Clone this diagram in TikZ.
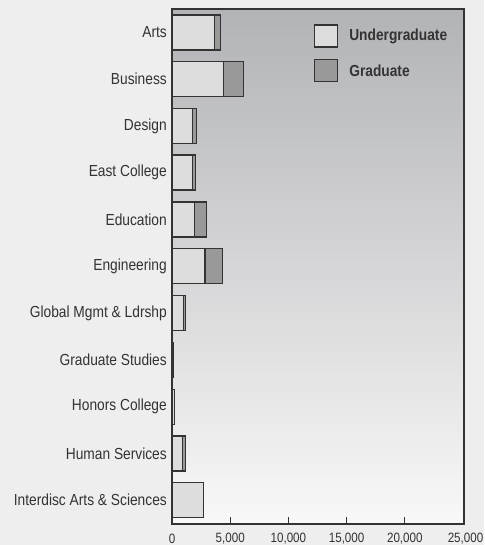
\documentclass[tikz,border=0pt]{standalone}
\usepackage{fontspec}
\setmainfont[FakeStretch=0.86]{Liberation Sans}
\usepackage{xcolor}
\usepackage{tikz}
\usetikzlibrary{positioning}
\definecolor{pagebg}{HTML}{EEEEEE}
\definecolor{shadetop}{HTML}{B2B3B6}
\definecolor{shadebot}{HTML}{F8F8F8}
\definecolor{barline}{HTML}{333333}
\definecolor{ugfill}{HTML}{DDDDDD}
\definecolor{gradfill}{HTML}{999999}
\definecolor{txt}{HTML}{333333}
\tikzset{
  ugbar/.style={draw=barline, fill=ugfill, line width=1.2pt},
  gradbar/.style={draw=barline, fill=gradfill, line width=1.2pt},
  college/.style={anchor=east, inner sep=0pt, text=txt, font=\fontsize{16}{18}\selectfont},
  ticklab/.style={inner sep=0pt, text=txt, font=\fontsize{13.5}{15}\selectfont},
  keytext/.style={anchor=west, inner sep=0pt, text=txt, font=\fontsize{16}{18}\selectfont\bfseries},
}

\begin{document}
\begin{tikzpicture}[x=1pt, y=-1pt]
      \fill[pagebg] (0,0) rectangle (484,545);
      \useasboundingbox (0,0) rectangle (484,545);
      \shade[top color=shadetop, bottom color=shadebot] (172,9) rectangle (464,524);
      \draw[barline, line width=1.3pt] (172,9) rectangle (464,524);
      % bars
      \draw[gradbar] (172,15) rectangle (220.3,50);
      \draw[ugbar] (172,15) rectangle (214.3,50);
      \draw[gradbar] (172,61.7) rectangle (243.3,96.7);
      \draw[ugbar] (172,61.7) rectangle (223.7,96.7);
      \draw[gradbar] (172,108.5) rectangle (196.5,143.5);
      \draw[ugbar] (172,108.5) rectangle (192.7,143.5);
      \draw[gradbar] (172,155.1) rectangle (195.7,190.1);
      \draw[ugbar] (172,155.1) rectangle (192.3,190.1);
      \draw[gradbar] (172,201.9) rectangle (206.7,236.9);
      \draw[ugbar] (172,201.9) rectangle (194.7,236.9);
      \draw[gradbar] (172,248.7) rectangle (222.3,283.7);
      \draw[ugbar] (172,248.7) rectangle (205,283.7);
      \draw[gradbar] (172,295.5) rectangle (185.3,330.5);
      \draw[ugbar] (172,295.5) rectangle (183.3,330.5);
      \draw[gradbar] (172,342.3) rectangle (173,377.3);
      \draw[ugbar] (172,389.1) rectangle (174.7,424.1);
      \draw[gradbar] (172,435.9) rectangle (185.3,470.9);
      \draw[ugbar] (172,435.9) rectangle (182.5,470.9);
      \draw[ugbar] (172,482.7) rectangle (203.3,517.7);
      % college names
      \node[college] (arts) at (167,32.5) {Arts};
      \node[college] (bus) at (167,79.2) {Business};
      \node[college] (des) at (167,126) {Design};
      \node[college] (east) at (167,172.6) {East College};
      \node[college] (edu) at (167,219.4) {Education};
      \node[college] (eng) at (167,266.2) {Engineering};
      \node[college] (glob) at (167,313) {Global Mgmt \& Ldrshp};
      \node[college] (grad) at (167,359.8) {Graduate Studies};
      \node[college] (hon) at (167,406.6) {Honors College};
      \node[college] (hum) at (167,453.4) {Human Services};
      \node[college] (inter) at (167,500.2) {Interdisc Arts \& Sciences};
      % axis ticks
      \draw[barline, line width=1.2pt] (230.2,524) -- (230.2,517);
      \draw[barline, line width=1.2pt] (288.4,524) -- (288.4,517);
      \draw[barline, line width=1.2pt] (346.6,524) -- (346.6,517);
      \draw[barline, line width=1.2pt] (404.8,524) -- (404.8,517);
      \node[ticklab] (t0) at (172,539) {0};
      \node[ticklab] (t5) at (230.2,539) {5,000};
      \node[ticklab] (t10) at (288.4,539) {10,000};
      \node[ticklab] (t15) at (346.6,539) {15,000};
      \node[ticklab] (t20) at (404.8,539) {20,000};
      \node[ticklab] (t25) at (465.5,539) {25,000};
      % key
      \node[ugbar, minimum width=23pt, minimum height=22pt, inner sep=0pt] (ugkey) at (326,36) {};
      \node[gradbar, minimum width=23pt, minimum height=22pt, inner sep=0pt] (gradkey) at (326,70.3) {};
      \node[keytext, right=11pt of ugkey] (uglab) {Undergraduate};
      \node[keytext, right=11pt of gradkey] (gradlab) {Graduate};
    \end{tikzpicture}
\end{document}
